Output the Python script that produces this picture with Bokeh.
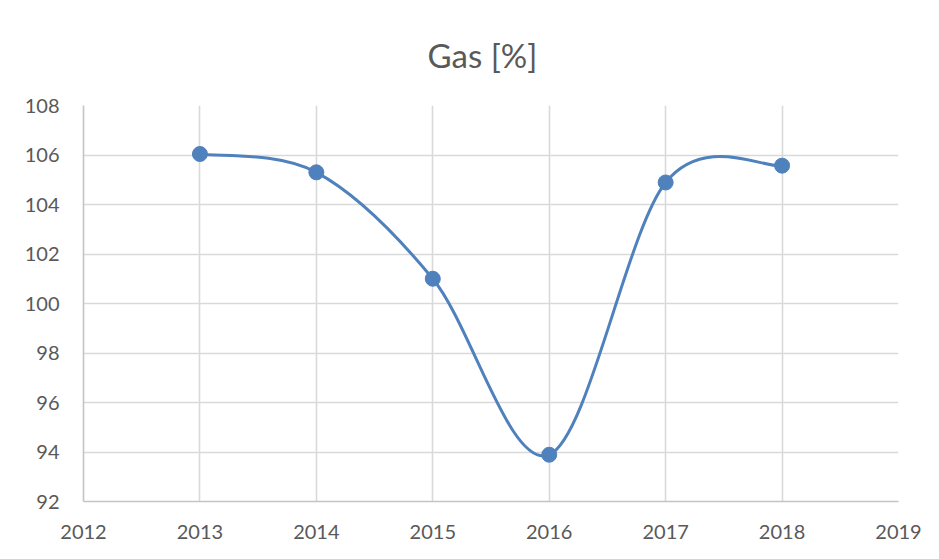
import numpy as np
from bokeh.plotting import figure
from bokeh.models import Range1d, FixedTicker, ColumnDataSource
from bokeh.embed import file_html
from bokeh.resources import INLINE

# Data
years = [2013, 2014, 2015, 2016, 2017, 2018]
gas = [106.04, 105.30, 101.00, 93.89, 104.89, 105.57]
x_ticks = [2012, 2013, 2014, 2015, 2016, 2017, 2018, 2019]
y_ticks = [92, 94, 96, 98, 100, 102, 104, 106, 108]
title_text = "Gas [%]"

LINE_COLOR = "#4f81bd"
TEXT_COLOR = "#595959"
FONT = "Lato"

p = figure(width=923, height=543, output_backend="svg", toolbar_location=None,
           x_range=Range1d(2012, 2019), y_range=Range1d(92, 108),
           min_border_left=83, min_border_right=25, min_border_top=105, min_border_bottom=42)

p.title.text = title_text
p.title.align = "left"
p.title.offset = 344
p.title.text_font = FONT
p.title.text_font_size = "33px"
p.title.text_font_style = "normal"
p.title.text_color = TEXT_COLOR
p.title.vertical_align = "top"
p.title.standoff = 58

p.outline_line_color = None
p.background_fill_color = "white"
p.border_fill_color = "white"

for ax in (p.xaxis, p.yaxis):
    ax.major_tick_line_color = None
    ax.minor_tick_line_color = None
    ax.axis_line_color = "#c4c4c4"
    ax.axis_line_width = 1.6
    ax.major_label_text_font = FONT
    ax.major_label_text_font_size = "20px"
    ax.major_label_text_color = TEXT_COLOR

p.xaxis.ticker = FixedTicker(ticks=x_ticks)
p.yaxis.ticker = FixedTicker(ticks=y_ticks)
p.xaxis.major_label_standoff = 17
p.yaxis.major_label_standoff = 18

p.xgrid.ticker = FixedTicker(ticks=x_ticks)
p.ygrid.ticker = FixedTicker(ticks=y_ticks)
p.grid.grid_line_color = "#d9d9d9"
p.grid.grid_line_width = 1.6

# Smoothed line (Excel-like Catmull-Rom bezier segments built from the data)
xs = np.array(years, dtype=float)
ys = np.array(gas, dtype=float)
n = len(xs)
px = np.concatenate([[xs[0]], xs, [xs[-1]]])
py = np.concatenate([[ys[0]], ys, [ys[-1]]])
x0 = xs[:-1]; y0 = ys[:-1]; x1 = xs[1:]; y1 = ys[1:]
cx0 = x0 + (px[2:n + 1] - px[0:n - 1]) / 6.0
cy0 = y0 + (py[2:n + 1] - py[0:n - 1]) / 6.0
cx1 = x1 - (px[3:n + 2] - px[1:n]) / 6.0
cy1 = y1 - (py[3:n + 2] - py[1:n]) / 6.0

bsrc = ColumnDataSource(dict(x0=x0, y0=y0, x1=x1, y1=y1, cx0=cx0, cy0=cy0, cx1=cx1, cy1=cy1))
p.bezier(x0="x0", y0="y0", x1="x1", y1="y1", cx0="cx0", cy0="cy0", cx1="cx1", cy1="cy1",
         source=bsrc, line_color=LINE_COLOR, line_width=3)

p.scatter(years, gas, size=15, fill_color=LINE_COLOR, line_color=LINE_COLOR)

open("out.html", "w").write(file_html(p, INLINE))
